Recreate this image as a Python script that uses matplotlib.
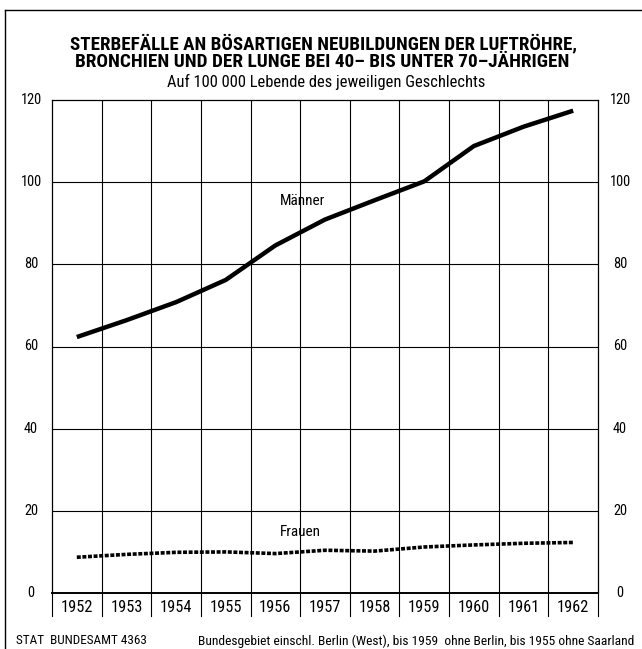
import matplotlib
matplotlib.use("Agg")
import matplotlib.pyplot as plt
from matplotlib import font_manager as fm
from matplotlib import transforms
from matplotlib.lines import Line2D

# ---------------- data ----------------
years = [1952, 1953, 1954, 1955, 1956, 1957, 1958, 1959, 1960, 1961, 1962]
maenner = [62.3, 66.4, 70.8, 76.2, 84.6, 90.9, 95.6, 100.2, 108.8, 113.5, 117.4]
frauen = [8.7, 9.4, 9.9, 10.0, 9.6, 10.4, 10.2, 11.2, 11.7, 12.1, 12.3]
y_ticks = [0, 20, 40, 60, 80, 100, 120]
year_labels = [str(y) for y in years]

title_1 = "STERBEFÄLLE AN BÖSARTIGEN NEUBILDUNGEN DER LUFTRÖHRE,"
title_2 = "BRONCHIEN UND DER LUNGE BEI 40– BIS UNTER 70–JÄHRIGEN"
subtitle = "Auf 100 000 Lebende des jeweiligen Geschlechts"
footer_left = "STAT  BUNDESAMT 4363"
footer_right = "Bundesgebiet einschl. Berlin (West), bis 1959  ohne Berlin, bis 1955 ohne Saarland"
label_m = "Männer"
label_f = "Frauen"


# ---------------- font choice ----------------
def pick_condensed():
    entries = fm.fontManager.ttflist
    names = {e.name for e in entries}
    for n in ["Liberation Sans Narrow", "Roboto Condensed", "Open Sans Condensed",
              "DejaVu Sans Condensed", "Noto Sans Condensed"]:
        if n in names:
            return dict(family=n)
    for fam in ["DejaVu Sans", "Noto Sans", "Roboto", "Open Sans"]:
        for e in entries:
            st = e.stretch
            cond = (isinstance(st, str) and "condensed" in st) or \
                   (isinstance(st, (int, float)) and st < 500)
            if e.name == fam and cond:
                return dict(family=fam, stretch="condensed")
    return dict(family="DejaVu Sans")


FC = pick_condensed()

W, H = 642, 649
fig = plt.figure(figsize=(W / 100, H / 100), dpi=100)
fig.patch.set_facecolor("white")

left_px, right_px, top_px, bot_px = 52, 598, 100, 593
ax = fig.add_axes([left_px / W, 1 - bot_px / H, (right_px - left_px) / W, (bot_px - top_px) / H])
ax.set_xlim(years[0] - 0.5, years[-1] + 0.5)
ax.set_ylim(0, 120)
ax.set_xticks([])
ax.set_yticks([])
for s in ax.spines.values():
    s.set_linewidth(0.9)
    s.set_color("black")
ax.spines["bottom"].set_linewidth(1.4)

# grid
for yv in y_ticks[1:-1]:
    ax.axhline(yv, color="black", lw=0.8, zorder=1)
for yr in years[:-1]:
    ax.axvline(yr + 0.5, color="black", lw=0.8, zorder=1)

# lines
ax.plot(years, maenner, color="black", lw=3.2, solid_capstyle="butt", zorder=3)
ax.plot(years, frauen, color="black", lw=2.6, linestyle=(0, (1.1, 0.45)),
        dash_capstyle="butt", zorder=3)

fig.canvas.draw()
renderer = fig.canvas.get_renderer()


def fit(t, target_w):
    bb = t.get_window_extent(renderer=renderer)
    if bb.width > 0:
        t.set_fontsize(t.get_fontsize() * target_w / bb.width)
    return t.get_fontsize()


def fy(px):
    return 1 - px / H


def fx(px):
    return px / W


# series labels
ax.text(1956.55, 95.4, label_m, ha="center", va="center", fontsize=11, **FC)
ax.text(1956.5, 14.8, label_f, ha="center", va="center", fontsize=11, **FC)

# y tick labels (both sides)
ah = bot_px - top_px
aw = right_px - left_px
tl = transforms.blended_transform_factory(ax.transAxes, ax.transData)
probe = fig.text(0, 0, "120", fontsize=10, **FC)
ysize = fit(probe, 21)
probe.remove()
for yv in y_ticks:
    ax.text((31 - left_px) / aw, yv, str(yv), transform=tl, ha="center", va="center",
            fontsize=ysize, **FC)
    ax.text((620 - left_px) / aw, yv, str(yv), transform=tl, ha="center", va="center",
            fontsize=ysize, **FC)

# year labels and separators
tb = transforms.blended_transform_factory(ax.transData, ax.transAxes)
probe = fig.text(0, 0, "1952", fontsize=10, **FC)
xsize = fit(probe, 32)
probe.remove()
for yr, lab in zip(years, year_labels):
    ax.text(yr, -(608 - bot_px) / ah, lab, transform=tb, ha="center", va="center",
            fontsize=xsize, **FC)
sep_bottom = -(616 - bot_px) / ah
for xb in [years[0] - 0.5] + [y + 0.5 for y in years]:
    ax.add_line(Line2D([xb, xb], [0, sep_bottom], transform=tb, color="black",
                       lw=0.8, clip_on=False))

# titles
t1 = fig.text(fx(324), fy(44), title_1, ha="center", va="center", fontsize=11,
              fontweight="bold", **FC)
fit(t1, 503)
t2 = fig.text(fx(322), fy(62), title_2, ha="center", va="center", fontsize=11,
              fontweight="bold", **FC)
fit(t2, 491)
t3 = fig.text(fx(326), fy(82), subtitle, ha="center", va="center", fontsize=10, **FC)
fit(t3, 315)

# footers
f1 = fig.text(fx(16), fy(641), footer_left, ha="left", va="center", fontsize=8, **FC)
fit(f1, 131)
f2 = fig.text(fx(634), fy(641), footer_right, ha="right", va="center", fontsize=8, **FC)
fit(f2, 437)

# outer frame (left and top edges)
fig.add_artist(Line2D([fx(5), fx(5)], [fy(649), fy(10)], transform=fig.transFigure,
                      color="black", lw=1.0))
fig.add_artist(Line2D([fx(5), fx(642)], [fy(10), fy(10)], transform=fig.transFigure,
                      color="black", lw=1.0))

fig.savefig("out.png", dpi=100, facecolor="white")
